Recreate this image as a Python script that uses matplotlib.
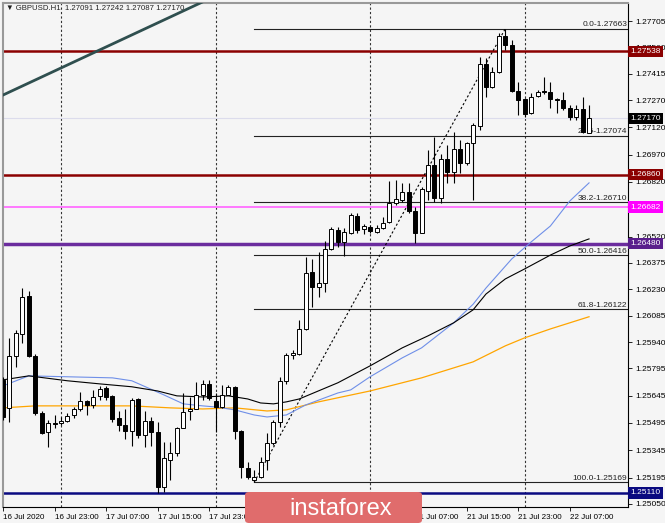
import matplotlib
matplotlib.use('Agg')
import matplotlib.pyplot as plt
from matplotlib.patches import FancyBboxPatch
import numpy as np

plt.rcParams['font.family'] = ['Liberation Sans', 'DejaVu Sans']

# GBPUSD H1 candles, bar 0 .. 91
opens = [1.25730, 1.25576, 1.25862, 1.25983, 1.26192, 1.25862, 1.25549, 1.25444, 1.25494, 1.25494,
         1.25505, 1.25538, 1.25571, 1.25615, 1.25593, 1.25642, 1.25686, 1.25642, 1.25521, 1.25483,
         1.25450, 1.25625, 1.25428, 1.25505, 1.25444, 1.25142, 1.25290, 1.25329, 1.25466, 1.25560,
         1.25571, 1.25648, 1.25708, 1.25615, 1.25582, 1.25648, 1.25692, 1.25450, 1.25246, 1.25180,
         1.25197, 1.25290, 1.25384, 1.25499, 1.25725, 1.25868, 1.25873, 1.26011, 1.26324, 1.26242,
         1.26264, 1.26451, 1.26555, 1.26489, 1.26539, 1.26632, 1.26561, 1.26572, 1.26544, 1.26566,
         1.26599, 1.26704, 1.26720, 1.26764, 1.26660, 1.26539, 1.26770, 1.26913, 1.26732, 1.26946,
         1.26875, 1.27001, 1.26924, 1.27034, 1.27128, 1.27468, 1.27342, 1.27425, 1.27622, 1.27573,
         1.27318, 1.27276, 1.27199, 1.27293, 1.27320, 1.27315, 1.27276, 1.27271, 1.27227, 1.27177,
         1.27221, 1.27091]
highs = [1.25750, 1.25961, 1.26005, 1.26236, 1.26220, 1.25873, 1.25560, 1.25510, 1.25538, 1.25527,
         1.25549, 1.25582, 1.25664, 1.25620, 1.25675, 1.25697, 1.25697, 1.25648, 1.25560, 1.25571,
         1.25631, 1.25631, 1.25560, 1.25527, 1.25499, 1.25389, 1.25389, 1.25471, 1.25659, 1.25637,
         1.25719, 1.25730, 1.25730, 1.25659, 1.25703, 1.25703, 1.25697, 1.25455, 1.25280, 1.25235,
         1.25307, 1.25439, 1.25510, 1.25747, 1.25879, 1.25895, 1.26060, 1.26407, 1.26396, 1.26434,
         1.26495, 1.26572, 1.26572, 1.26566, 1.26649, 1.26649, 1.26588, 1.26583, 1.26583, 1.26627,
         1.26825, 1.26830, 1.26814, 1.26814, 1.26682, 1.26792, 1.26996, 1.27070, 1.26974, 1.27023,
         1.27095, 1.27051, 1.27040, 1.27144, 1.27507, 1.27502, 1.27452, 1.27639, 1.27663, 1.27601,
         1.27370, 1.27282, 1.27309, 1.27326, 1.27397, 1.27370, 1.27282, 1.27315, 1.27243, 1.27243,
         1.27287, 1.27242]
lows = [1.25510, 1.25499, 1.25802, 1.25934, 1.25857, 1.25538, 1.25433, 1.25362, 1.25466, 1.25483,
        1.25500, 1.25521, 1.25560, 1.25538, 1.25576, 1.25620, 1.25620, 1.25499, 1.25450, 1.25406,
        1.25367, 1.25411, 1.25362, 1.25367, 1.25109, 1.25114, 1.25180, 1.25312, 1.25466, 1.25510,
        1.25571, 1.25620, 1.25620, 1.25444, 1.25576, 1.25648, 1.25406, 1.25191, 1.25186, 1.25169,
        1.25191, 1.25235, 1.25373, 1.25471, 1.25708, 1.25846, 1.25868, 1.26005, 1.26132, 1.26187,
        1.26214, 1.26445, 1.26462, 1.26412, 1.26533, 1.26539, 1.26533, 1.26539, 1.26539, 1.26561,
        1.26594, 1.26693, 1.26709, 1.26649, 1.26484, 1.26539, 1.26721, 1.26710, 1.26705, 1.26814,
        1.26814, 1.26869, 1.26913, 1.26721, 1.27106, 1.27287, 1.27337, 1.27419, 1.27546, 1.27315,
        1.27188, 1.27177, 1.27194, 1.27287, 1.27304, 1.27227, 1.27199, 1.27216, 1.27160, 1.27160,
        1.27087, 1.27087]
closes = [1.25530, 1.25862, 1.25989, 1.26187, 1.25862, 1.25549, 1.25439, 1.25494, 1.25488, 1.25505,
          1.25532, 1.25571, 1.25615, 1.25593, 1.25637, 1.25681, 1.25637, 1.25516, 1.25483, 1.25450,
          1.25620, 1.25428, 1.25505, 1.25444, 1.25142, 1.25301, 1.25329, 1.25466, 1.25554, 1.25571,
          1.25648, 1.25708, 1.25631, 1.25582, 1.25648, 1.25692, 1.25450, 1.25252, 1.25197, 1.25197,
          1.25280, 1.25384, 1.25499, 1.25725, 1.25868, 1.25879, 1.26011, 1.26319, 1.26242, 1.26264,
          1.26451, 1.26561, 1.26489, 1.26544, 1.26638, 1.26555, 1.26577, 1.26550, 1.26566, 1.26594,
          1.26704, 1.26726, 1.26764, 1.26660, 1.26539, 1.26781, 1.26913, 1.26732, 1.26946, 1.26875,
          1.27001, 1.26924, 1.27034, 1.27133, 1.27468, 1.27342, 1.27425, 1.27622, 1.27573, 1.27318,
          1.27271, 1.27194, 1.27287, 1.27315, 1.27315, 1.27276, 1.27271, 1.27227, 1.27177, 1.27221,
          1.27095, 1.27170]

# moving averages, read at a few bars
ma_black_x = [0, 4, 10, 15, 20, 24, 27, 31, 35, 38, 40, 42, 44, 46, 52, 57, 62, 66, 70, 73, 75, 78, 81, 85, 88, 91]
ma_black_y = [1.25732, 1.25754, 1.25727, 1.25710, 1.25694, 1.25671, 1.25644, 1.25638, 1.25644, 1.25627,
              1.25605, 1.25600, 1.25611, 1.25627, 1.25716, 1.25809, 1.25908, 1.25974, 1.26046, 1.26117,
              1.26204, 1.26287, 1.26342, 1.26418, 1.26468, 1.26507]
ma_blue_x = [0, 4, 10, 17, 20, 25, 28, 31, 33, 36, 39, 41, 44, 47, 52, 54, 57, 62, 65, 70, 73, 75, 79, 82, 85, 88, 91]
ma_blue_y = [1.25699, 1.25754, 1.25749, 1.25743, 1.25727, 1.25649, 1.25600, 1.25589, 1.25583, 1.25567,
             1.25539, 1.25528, 1.25539, 1.25594, 1.25660, 1.25677, 1.25749, 1.25853, 1.25908, 1.26046,
             1.26148, 1.26237, 1.26397, 1.26490, 1.26578, 1.26715, 1.26815]
ma_orange_x = [0, 5, 20, 26, 31, 36, 41, 44, 49, 57, 62, 65, 73, 78, 81, 85, 91]
ma_orange_y = [1.25578, 1.25589, 1.25589, 1.25578, 1.25572, 1.25578, 1.25561, 1.25567, 1.25611, 1.25671,
               1.25716, 1.25743, 1.25831, 1.25919, 1.25963, 1.26012, 1.26079]

# horizontal levels
level_prices = [1.27538, 1.26860, 1.26682, 1.26480, 1.25110]
level_line_colors = ['#8B0000', '#8B0000', '#FF6EFF', '#6B2C9E', '#0A0A80']
level_box_colors = ['#8B0000', '#8B0000', '#FF00FF', '#5A1E8C', '#0A0A80']
level_widths = [1.8, 1.8, 1.3, 2.5, 1.8]

# fibonacci retracement
fib_levels = [0.0, 23.6, 38.2, 50.0, 61.8, 100.0]
fib_prices = [1.27663, 1.27074, 1.26710, 1.26416, 1.26122, 1.25169]
fib_start_bar = 39
fib_end_bar = 78

trend_x = [0, 31]
trend_y = [1.27298, 1.27810]

bid = 1.27170

ytick_vals = [1.27705, 1.27560, 1.27415, 1.27270, 1.27120, 1.26970, 1.26820, 1.26675, 1.26520, 1.26375,
              1.26230, 1.26085, 1.25940, 1.25795, 1.25645, 1.25495, 1.25345, 1.25195, 1.25050]
hidden_yticks = [1.26675]
xtick_bars = [0, 8, 16, 24, 32, 40, 48, 56, 64, 72, 80, 88]
xtick_labels = ['16 Jul 2020', '16 Jul 23:00', '17 Jul 07:00', '17 Jul 15:00', '17 Jul 23:00', '',
                '', '', '21 Jul 07:00', '21 Jul 15:00', '21 Jul 23:00', '22 Jul 07:00']
grid_bars = [9, 33, 57, 81]

bg = '#F5F5F5'
fig = plt.figure(figsize=(6.65, 5.23), dpi=100, facecolor=bg)
ax = fig.add_axes([3 / 665, 16 / 523, 625 / 665, 504 / 523])
ax.set_facecolor(bg)
ax.set_xlim(0.05, 97.05)
ax.set_ylim(1.25033, 1.27804)

for b in grid_bars:
    ax.axvline(b, color='#333333', lw=0.8, ls=(0, (2, 2)), zorder=1)

ax.axhline(bid, color='#DCDCEC', lw=0.8, zorder=1)

for p, col, w in zip(level_prices, level_line_colors, level_widths):
    ax.axhline(p, color=col, lw=w, zorder=2)

# fibo lines + labels
for lv, p in zip(fib_levels, fib_prices):
    ax.plot([fib_start_bar, 97.05], [p, p], color='#222222', lw=0.8, zorder=2)
    ax.text(96.9, p + 0.00002, f'{lv:.1f}-{p:.5f}', ha='right', va='bottom',
            fontsize=6, color='#222222', zorder=3)
ax.plot([fib_start_bar, fib_end_bar], [fib_prices[-1], fib_prices[0]],
        color='black', lw=0.8, ls=(0, (2, 2)), zorder=3)

ax.plot(trend_x, trend_y, color='#2F4F4F', lw=2, zorder=3)

ax.plot(ma_orange_x, ma_orange_y, color='#FFA500', lw=0.9, zorder=3)
ax.plot(ma_blue_x, ma_blue_y, color='#6F8FE8', lw=0.8, zorder=3)
ax.plot(ma_black_x, ma_black_y, color='black', lw=0.8, zorder=3)

# candles
o = np.array(opens); h = np.array(highs); l = np.array(lows); c = np.array(closes)
bars = np.arange(len(o))
up = c >= o
lo = np.minimum(o, c)
hgt = np.maximum(np.abs(c - o), 0.00002)
ax.vlines(bars, l, h, color='black', lw=0.8, zorder=4)
ax.bar(bars[up], hgt[up], bottom=lo[up], width=0.62, color='white', edgecolor='black', lw=0.7, zorder=5)
ax.bar(bars[~up], hgt[~up], bottom=lo[~up], width=0.62, color='black', edgecolor='black', lw=0.7, zorder=5)

# axes look
ax.yaxis.tick_right()
ax.set_yticks(ytick_vals)
ax.set_yticklabels(['' if v in hidden_yticks else f'{v:.5f}' for v in ytick_vals])
ax.tick_params(axis='y', labelsize=6, length=3, pad=2, width=0.6)
ax.set_xticks(xtick_bars)
ax.set_xticklabels(xtick_labels)
ax.tick_params(axis='x', labelsize=5.8, length=3, pad=2, width=0.6)
for t in ax.get_xticklabels():
    t.set_ha('left')
for s in ['left', 'top']:
    ax.spines[s].set_color('#999999')
    ax.spines[s].set_linewidth(1.5)
for s in ['right', 'bottom']:
    ax.spines[s].set_color('black')
    ax.spines[s].set_linewidth(0.8)

# price boxes on the scale
for p, col in zip(level_prices, level_box_colors):
    ax.text(1.004, p, f'{p:.5f}', transform=ax.get_yaxis_transform(), ha='left', va='center',
            fontsize=6, color='white', clip_on=False, zorder=10,
            bbox=dict(boxstyle='square,pad=0.25', fc=col, ec='none'))
ax.text(1.004, bid, f'{bid:.5f}', transform=ax.get_yaxis_transform(), ha='left', va='center',
        fontsize=6, color='white', clip_on=False, zorder=10,
        bbox=dict(boxstyle='square,pad=0.25', fc='black', ec='none'))

ax.text(0.004, 0.996, '\u25BC GBPUSD.H1  1.27091 1.27242 1.27087 1.27170', transform=ax.transAxes,
        ha='left', va='top', fontsize=5.6, color='#222222', zorder=10)

# logo
logo = FancyBboxPatch((245 / 665, 0), 177 / 665, 31 / 523, boxstyle='round,pad=0,rounding_size=0.006',
                      transform=fig.transFigure, fc='#E06C6C', ec='none', zorder=20)
fig.add_artist(logo)
fig.text(289 / 665, 14 / 523, 'instaforex', ha='left', va='center', fontsize=17,
         color='white', zorder=21)

fig.savefig('out.png', dpi=100, facecolor=bg)
